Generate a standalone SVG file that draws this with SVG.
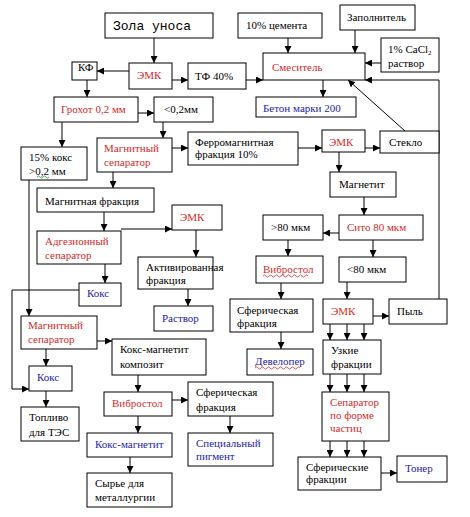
<svg xmlns="http://www.w3.org/2000/svg" width="470" height="517" viewBox="0 0 470 517">
<style>
svg text, text{font-family:'Liberation Serif','Times New Roman',serif;font-size:11px;fill:#000}
svg text.m{font-family:'Liberation Mono','Courier New',monospace;font-size:13px}
rect{fill:#fff;stroke:#000;stroke-width:1}
svg text.r{fill:#d42a2a}
svg text.b{fill:#1c1ca8}
#c line,#c polyline{stroke:#000;stroke-width:1;fill:none;marker-end:url(#ah)}
.sq{fill:none;stroke-width:0.8}
</style>
<defs>
<marker id="ah" viewBox="0 0 8 8" refX="8" refY="4" markerWidth="7" markerHeight="7" markerUnits="userSpaceOnUse" orient="auto"><path d="M0,0 L8,4 L0,8 z" fill="#000"/></marker>
</defs>
<rect x="0" y="0" width="470" height="517" style="stroke:none"/>
<g id="c">
<line x1="154" y1="38" x2="154" y2="63"/>
<line x1="129" y1="71" x2="97" y2="71"/>
<line x1="172" y1="80" x2="188" y2="80"/>
<line x1="246" y1="80" x2="263" y2="80"/>
<line x1="288" y1="38" x2="288" y2="53"/>
<line x1="355" y1="30" x2="355" y2="53"/>
<line x1="381" y1="63" x2="365" y2="63"/>
<polyline points="439,299 439,80 365,80"/>
<line x1="405" y1="131" x2="348" y2="80"/>
<line x1="323" y1="80" x2="323" y2="97"/>
<line x1="87" y1="80" x2="87" y2="97"/>
<line x1="138" y1="113" x2="154" y2="113"/>
<line x1="62" y1="122" x2="62" y2="147"/>
<line x1="163" y1="122" x2="163" y2="138"/>
<line x1="172" y1="148" x2="188" y2="148"/>
<line x1="298" y1="148" x2="322" y2="148"/>
<line x1="365" y1="148" x2="380" y2="148"/>
<line x1="339" y1="152" x2="339" y2="172"/>
<line x1="364" y1="197" x2="364" y2="215"/>
<line x1="339" y1="233" x2="323" y2="233"/>
<line x1="288" y1="240" x2="288" y2="256"/>
<line x1="373" y1="240" x2="373" y2="257"/>
<line x1="113" y1="172" x2="113" y2="188"/>
<line x1="104" y1="212" x2="104" y2="231"/>
<line x1="121" y1="229" x2="172" y2="229"/>
<line x1="196" y1="230" x2="196" y2="257"/>
<line x1="188" y1="289" x2="188" y2="306"/>
<line x1="105" y1="264" x2="105" y2="283"/>
<polyline points="79,290 12,290 12,389 29,389"/>
<line x1="29" y1="180" x2="29" y2="316"/>
<line x1="46" y1="349" x2="46" y2="366"/>
<line x1="46" y1="391" x2="46" y2="407"/>
<line x1="97" y1="341" x2="112" y2="341"/>
<line x1="138" y1="375" x2="138" y2="392"/>
<line x1="172" y1="400" x2="188" y2="400"/>
<line x1="138" y1="416" x2="138" y2="433"/>
<line x1="130" y1="457" x2="130" y2="473"/>
<line x1="230" y1="416" x2="230" y2="433"/>
<line x1="281" y1="283" x2="281" y2="299"/>
<line x1="281" y1="332" x2="281" y2="349"/>
<line x1="347" y1="282" x2="347" y2="299"/>
<line x1="373" y1="316" x2="389" y2="316"/>
<line x1="330" y1="324" x2="330" y2="340"/>
<line x1="347" y1="324" x2="347" y2="340"/>
<line x1="364" y1="324" x2="364" y2="340"/>
<line x1="330" y1="374" x2="330" y2="392"/>
<line x1="347" y1="374" x2="347" y2="392"/>
<line x1="364" y1="374" x2="364" y2="392"/>
<line x1="330" y1="441" x2="330" y2="457"/>
<line x1="347" y1="441" x2="347" y2="457"/>
<line x1="364" y1="441" x2="364" y2="457"/>
<line x1="381" y1="473" x2="397" y2="473"/>
</g>
<g id="zola"><rect x="105" y="13" width="108" height="25"/><text class="m" font-family="'Liberation Mono', monospace" font-size="13" x="113" y="30">Зола уноса</text></g>
<g id="cement" font-family="'Liberation Serif', serif"><rect x="238" y="13" width="84" height="25"/><text x="246" y="29">10% цемента</text></g>
<g id="zapoln" font-family="'Liberation Serif', serif"><rect x="340" y="5" width="75" height="25"/><text x="347" y="21">Заполнитель</text></g>
<g id="cacl" font-family="'Liberation Serif', serif"><rect x="381" y="38" width="58" height="34"/><text x="388" y="53">1% CaCl<tspan font-size="7" dy="2">2</tspan></text><text x="388" y="67">раствор</text></g>
<g id="kf" font-family="'Liberation Serif', serif"><rect x="72" y="62" width="25" height="18"/><text x="78" y="71">КФ</text></g>
<g id="emk1" font-family="'Liberation Serif', serif"><rect x="129" y="63" width="43" height="26"/><text class="r" x="137" y="79">ЭМК</text></g>
<g id="tf" font-family="'Liberation Serif', serif"><rect x="188" y="63" width="58" height="26"/><text x="195" y="80">ТФ 40%</text></g>
<g id="mixer" font-family="'Liberation Serif', serif"><rect x="263" y="53" width="102" height="27"/><text class="r" x="272" y="71">Смеситель</text></g>
<g id="beton" font-family="'Liberation Serif', serif"><rect x="256" y="97" width="100" height="20"/><text class="b" x="263" y="112">Бетон марки 200</text></g>
<g id="grokhot" font-family="'Liberation Serif', serif"><rect x="54" y="97" width="84" height="25"/><text class="r" x="61" y="113">Грохот 0,2 мм</text></g>
<g id="lt02" font-family="'Liberation Serif', serif"><rect x="154" y="97" width="59" height="25"/><text x="164" y="113">&lt;0,2мм</text></g>
<g id="koks15" font-family="'Liberation Serif', serif"><rect x="21" y="147" width="66" height="33"/><text x="29" y="161">15% кокс</text><text x="29" y="175">&gt;0,2 мм</text><path class="sq" stroke="#2a9a2a" d="M37,177 q1.5,-2 3,0 t3,0 t3,0 t3,0"/></g>
<g id="magsep1" font-family="'Liberation Serif', serif"><rect x="97" y="138" width="75" height="34"/><text class="r" x="104" y="152">Магнитный</text><text class="r" x="104" y="166">сепаратор</text></g>
<g id="ferro" font-family="'Liberation Serif', serif"><rect x="188" y="132" width="110" height="33"/><text x="195" y="146">Ферромагнитная</text><text x="195" y="158">фракция 10%</text></g>
<g id="emk2" font-family="'Liberation Serif', serif"><rect x="322" y="130" width="43" height="22"/><text class="r" x="329" y="146">ЭМК</text></g>
<g id="steklo" font-family="'Liberation Serif', serif"><rect x="380" y="131" width="59" height="22"/><text x="389" y="146">Стекло</text></g>
<g id="magnetit" font-family="'Liberation Serif', serif"><rect x="330" y="172" width="66" height="25"/><text x="339" y="188">Магнетит</text></g>
<g id="magfrac" font-family="'Liberation Serif', serif"><rect x="37" y="188" width="117" height="24"/><text x="45" y="205">Магнитная фракция</text></g>
<g id="sito" font-family="'Liberation Serif', serif"><rect x="339" y="215" width="84" height="25"/><text class="r" x="347" y="231">Сито 80 мкм</text></g>
<g id="gt80" font-family="'Liberation Serif', serif"><rect x="263" y="215" width="60" height="25"/><text x="271" y="231">&gt;80 мкм</text></g>
<g id="emk3" font-family="'Liberation Serif', serif"><rect x="172" y="205" width="50" height="25"/><text class="r" x="180" y="221">ЭМК</text></g>
<g id="adhez" font-family="'Liberation Serif', serif"><rect x="37" y="231" width="84" height="33"/><text class="r" x="45" y="245">Адгезионный</text><text class="r" x="45" y="259">сепаратор</text></g>
<g id="vibro1" font-family="'Liberation Serif', serif"><rect x="256" y="256" width="67" height="27"/><text class="r" x="263" y="273">Вибростол</text><path class="sq" stroke="#d42a2a" d="M263,276 q1.5,-2 3,0 t3,0 t3,0 t3,0 t3,0 t3,0 t3,0 t3,0 t3,0 t3,0 t3,0 t3,0 t3,0 t3,0 t3,0"/></g>
<g id="lt80" font-family="'Liberation Serif', serif"><rect x="339" y="257" width="67" height="25"/><text x="347" y="273">&lt;80 мкм</text></g>
<g id="activ" font-family="'Liberation Serif', serif"><rect x="138" y="257" width="75" height="32"/><text x="146" y="271">Активированная</text><text x="146" y="284">фракция</text></g>
<g id="koks1" font-family="'Liberation Serif', serif"><rect x="79" y="283" width="42" height="23"/><text class="b" x="87" y="297">Кокс</text></g>
<g id="sfer1" font-family="'Liberation Serif', serif"><rect x="230" y="299" width="83" height="33"/><text x="237" y="314">Сферическая</text><text x="237" y="327">фракция</text></g>
<g id="emk4" font-family="'Liberation Serif', serif"><rect x="323" y="299" width="50" height="25"/><text class="r" x="331" y="315">ЭМК</text></g>
<g id="pyl" font-family="'Liberation Serif', serif"><rect x="389" y="299" width="58" height="25"/><text x="397" y="315">Пыль</text></g>
<g id="rastvor" font-family="'Liberation Serif', serif"><rect x="154" y="306" width="59" height="25"/><text class="b" x="162" y="322">Раствор</text></g>
<g id="magsep2" font-family="'Liberation Serif', serif"><rect x="21" y="316" width="76" height="33"/><text class="r" x="28" y="329">Магнитный</text><text class="r" x="28" y="343">сепаратор</text></g>
<g id="kmkomp" font-family="'Liberation Serif', serif"><rect x="112" y="339" width="94" height="36"/><text x="120" y="353">Кокс-магнетит</text><text x="120" y="368">композит</text></g>
<g id="uzkie" font-family="'Liberation Serif', serif"><rect x="323" y="340" width="58" height="34"/><text x="331" y="354">Узкие</text><text x="331" y="368">фракции</text></g>
<g id="developer" font-family="'Liberation Serif', serif"><rect x="247" y="349" width="66" height="26"/><text class="b" x="255" y="365">Девелопер</text><path class="sq" stroke="#d42a2a" d="M255,368 q1.5,-2 3,0 t3,0 t3,0 t3,0 t3,0 t3,0 t3,0 t3,0 t3,0 t3,0 t3,0 t3,0 t3,0 t3,0 t3,0"/></g>
<g id="koks2" font-family="'Liberation Serif', serif"><rect x="29" y="366" width="43" height="25"/><text class="b" x="37" y="381">Кокс</text></g>
<g id="vibro2" font-family="'Liberation Serif', serif"><rect x="104" y="392" width="68" height="24"/><text class="r" x="112" y="407">Вибростол</text></g>
<g id="sfer2" font-family="'Liberation Serif', serif"><rect x="188" y="382" width="85" height="34"/><text x="196" y="396">Сферическая</text><text x="196" y="411">фракция</text></g>
<g id="sepform" font-family="'Liberation Serif', serif"><rect x="322" y="392" width="67" height="49"/><text class="r" x="330" y="406">Сепаратор</text><text class="r" x="330" y="419">по форме</text><text class="r" x="330" y="432">частиц</text></g>
<g id="toplivo" font-family="'Liberation Serif', serif"><rect x="21" y="407" width="58" height="34"/><text x="29" y="421">Топливо</text><text x="29" y="436">для ТЭС</text></g>
<g id="kmag" font-family="'Liberation Serif', serif"><rect x="87" y="433" width="85" height="24"/><text class="b" x="95" y="448">Кокс-магнетит</text></g>
<g id="pigment" font-family="'Liberation Serif', serif"><rect x="188" y="433" width="85" height="33"/><text class="b" x="196" y="447">Специальный</text><text class="b" x="196" y="460">пигмент</text></g>
<g id="syrye" font-family="'Liberation Serif', serif"><rect x="87" y="473" width="85" height="34"/><text x="95" y="487">Сырье для</text><text x="95" y="501">металлургии</text></g>
<g id="sferfr" font-family="'Liberation Serif', serif"><rect x="298" y="457" width="83" height="33"/><text x="306" y="471">Сферические</text><text x="306" y="483">фракции</text></g>
<g id="toner" font-family="'Liberation Serif', serif"><rect x="397" y="456" width="50" height="26"/><text class="b" x="405" y="472">Тонер</text></g>
</svg>
